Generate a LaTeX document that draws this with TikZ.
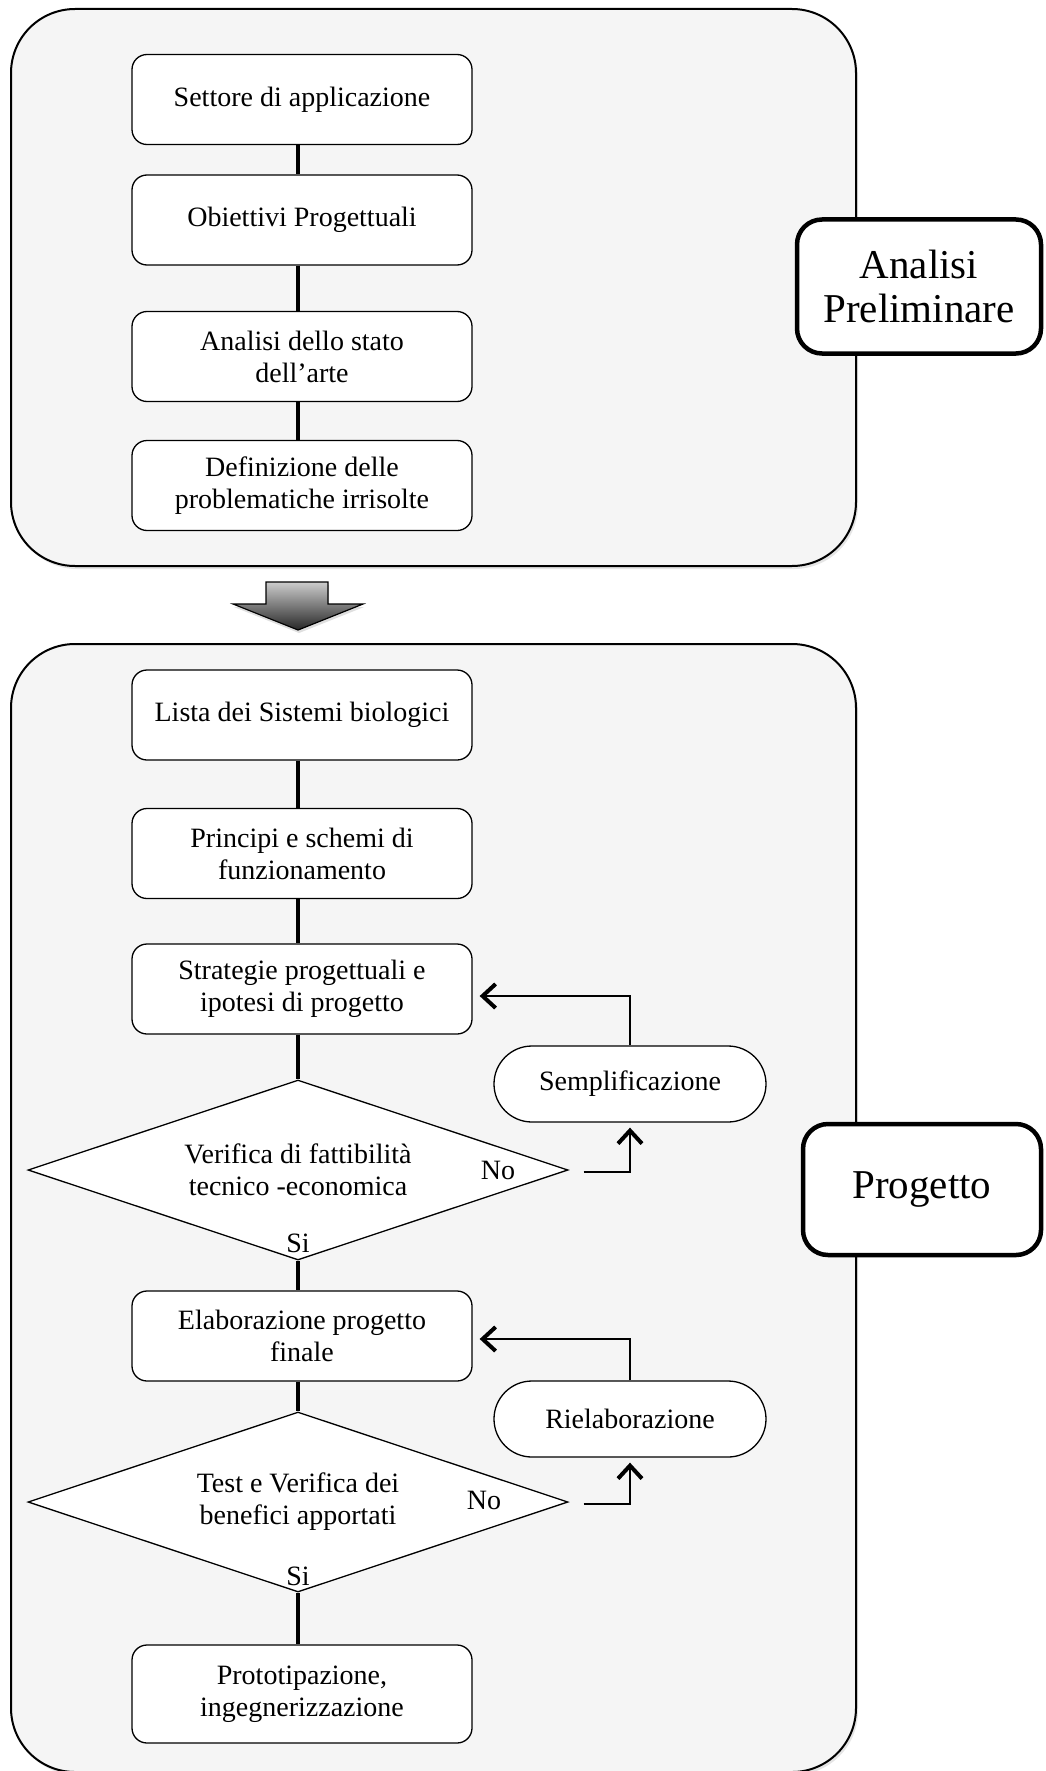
\documentclass[tikz,border=0pt]{standalone}
\usepackage{fontspec}
\setmainfont{Liberation Serif}
\usetikzlibrary{shapes.geometric,shapes.misc,arrows.meta,shadows}
\definecolor{framefill}{RGB}{245,245,245}
\begin{document}
\begin{tikzpicture}[x=1pt,y=-1pt,
  frame/.style={draw=black, line width=2pt, fill=framefill, rounded corners=64pt, inner sep=0pt,
     drop shadow={shadow xshift=2pt, shadow yshift=-3pt, opacity=0.2}},
  stepbox/.style={draw=black, line width=1.3pt, fill=white, rounded corners=15pt,
     minimum width=340pt, minimum height=90pt, inner sep=0pt, align=center,
     font=\fontsize{28}{32}\selectfont},
  decision/.style={diamond, aspect=3, draw=black, line width=1.3pt, fill=white,
     minimum width=540pt, minimum height=180pt, inner sep=0pt, align=center,
     font=\fontsize{28}{32}\selectfont},
  pill/.style={rounded rectangle, draw=black, line width=1.3pt, fill=white,
     minimum width=272pt, minimum height=76pt, inner sep=0pt,
     font=\fontsize{28}{32}\selectfont},
  labelbox/.style={draw=black, line width=4.5pt, fill=white, rounded corners=25pt,
     inner sep=0pt, align=center, font=\fontsize{41}{44}\selectfont},
  lbl/.style={inner sep=0pt, font=\fontsize{28}{32}\selectfont},
  conn/.style={draw=black, line width=4pt},
  loopline/.style={draw=black, line width=2.4pt,
     -{Straight Barb[length=13pt,width=24pt,line width=4pt]}}
]
\clip (0,0) rectangle (1045,1771);
\fill[white] (0,0) rectangle (1045,1771);

% outer frames
\node[frame, minimum width=845pt, minimum height=557pt] (f1) at (433.5,287.5) {};
\node[frame, minimum width=845pt, minimum height=1128pt] (f2) at (433.5,1208) {};

% big arrow between the frames
\path[draw=black, line width=1.2pt, top color=black!20, bottom color=black!85,
      drop shadow={shadow xshift=1pt, shadow yshift=-3pt, opacity=0.25}]
  (266,582) -- (328,582) -- (328,604) -- (363,604) -- (298,630) -- (233,604) -- (266,604) -- cycle;

% phase labels
\node[labelbox, minimum width=244pt, minimum height=134pt] (lab1) at (919,286.5) {Analisi\\Preliminare};
\node[labelbox, minimum width=238pt, minimum height=131pt] (lab2) at (922,1189.5) {Progetto};

% first phase
\node[stepbox] (b1) at (302,99.5) {Settore di applicazione};
\node[stepbox] (b2) at (302,220) {Obiettivi Progettuali};
\node[stepbox] (b3) at (302,356.5) {Analisi dello stato\\dell’arte};
\node[stepbox] (b4) at (302,485.5) {Definizione delle\\problematiche irrisolte};

% second phase
\node[stepbox] (b5) at (302,715) {Lista dei Sistemi biologici};
\node[stepbox] (b6) at (302,853.5) {Principi e schemi di\\funzionamento};
\node[stepbox] (b7) at (302,989) {Strategie progettuali e\\ipotesi di progetto};
\node[decision] (d1) at (298,1170) {Verifica di fattibilità\\tecnico -economica};
\node[stepbox] (b8) at (302,1336) {Elaborazione progetto\\finale};
\node[decision] (d2) at (298,1502) {Test e Verifica dei\\benefici apportati};
\node[stepbox, minimum height=98pt] (b9) at (302,1694) {Prototipazione,\\ingegnerizzazione};

\node[pill] (s1) at (630,1084) {Semplificazione};
\node[pill] (s2) at (630,1419) {Rielaborazione};

\node[lbl] (no1) at (498,1170) {No};
\node[lbl] (si1) at (298,1243) {Si};
\node[lbl] (no2) at (484,1500) {No};
\node[lbl] (si2) at (298,1576) {Si};

% connectors
\draw[conn] ([xshift=-4pt]b1.south) -- ([xshift=-4pt]b2.north);
\draw[conn] ([xshift=-4pt]b2.south) -- ([xshift=-4pt]b3.north);
\draw[conn] ([xshift=-4pt]b3.south) -- ([xshift=-4pt]b4.north);
\draw[conn] ([xshift=-4pt]b5.south) -- ([xshift=-4pt]b6.north);
\draw[conn] ([xshift=-4pt]b6.south) -- ([xshift=-4pt]b7.north);
\draw[conn] ([xshift=-4pt]b7.south) -- (d1.north);
\draw[conn] (d1.south) -- ([xshift=-4pt]b8.north);
\draw[conn] ([xshift=-4pt]b8.south) -- (d2.north);
\draw[conn] (d2.south) -- ([xshift=-4pt]b9.north);

% loops
\draw[loopline, shorten >=7pt] (s1.north) |- ([yshift=-7pt]b7.east);
\draw[loopline, shorten >=5pt] ([xshift=15pt,yshift=-2pt]d1.east) -| (s1.south);
\draw[loopline, shorten >=7pt] (s2.north) |- ([yshift=-3pt]b8.east);
\draw[loopline, shorten >=5pt] ([xshift=15pt,yshift=-2pt]d2.east) -| (s2.south);
\end{tikzpicture}
\end{document}
